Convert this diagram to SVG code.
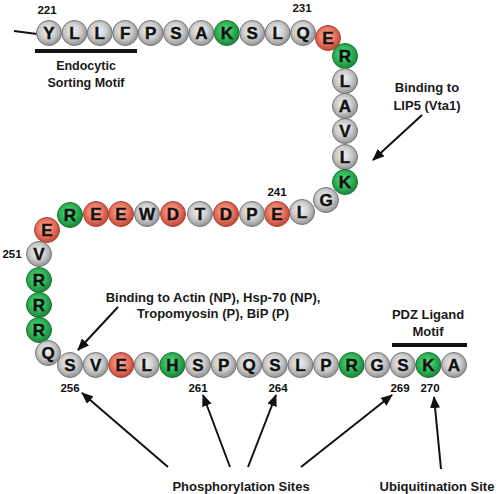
<svg xmlns="http://www.w3.org/2000/svg" width="498" height="494" viewBox="0 0 498 494">
<defs>
<radialGradient id="gG" cx="45%" cy="42%" r="58%">
<stop offset="0" stop-color="#f2f2f2"/><stop offset="0.55" stop-color="#cdcdcd"/><stop offset="1" stop-color="#929292"/>
</radialGradient>
<radialGradient id="gN" cx="45%" cy="42%" r="58%">
<stop offset="0" stop-color="#5cdc80"/><stop offset="0.55" stop-color="#2fb657"/><stop offset="1" stop-color="#1a8439"/>
</radialGradient>
<radialGradient id="gR" cx="45%" cy="42%" r="58%">
<stop offset="0" stop-color="#fbb6a6"/><stop offset="0.55" stop-color="#ea7662"/><stop offset="1" stop-color="#c14537"/>
</radialGradient>
<marker id="ah" viewBox="0 0 12 10" refX="11" refY="5" markerWidth="12" markerHeight="10" markerUnits="userSpaceOnUse" orient="auto">
<path d="M0,0 L12,5 L0,10 z" fill="#111"/>
</marker>
<style>
circle{stroke-width:1}
.g{fill:url(#gG);stroke:#767676}
.n{fill:url(#gN);stroke:#1d7436}
.r{fill:url(#gR);stroke:#a44236}
.aa{font-family:"Liberation Sans",Arial,sans-serif;font-weight:bold;font-size:17px;text-anchor:middle;fill:#111;stroke:#111;stroke-width:0.4}
.num{font-family:"Liberation Sans",Arial,sans-serif;font-weight:bold;font-size:11.5px;text-anchor:middle;fill:#111}
.lbl{font-family:"Liberation Sans",Arial,sans-serif;font-weight:bold;font-size:13px;text-anchor:middle;fill:#1a1a1a}
.ar{stroke:#111;stroke-width:2;fill:none;marker-end:url(#ah)}
.bar{stroke:#111;stroke-width:4}
</style>
</defs>
<rect width="498" height="494" fill="#fff"/>
<g id="connectors">
<line x1="14" y1="31" x2="37" y2="34" stroke="#111" stroke-width="2"/>
<line class="ar" x1="422" y1="115" x2="373" y2="160"/>
<line class="ar" x1="118" y1="307" x2="78" y2="350"/>
<line class="ar" x1="168" y1="467" x2="82" y2="393"/>
<line class="ar" x1="230" y1="467" x2="203" y2="395"/>
<line class="ar" x1="248" y1="467" x2="276" y2="395"/>
<line class="ar" x1="301" y1="467" x2="392" y2="395"/>
<line class="ar" x1="441" y1="469" x2="434" y2="397"/>
</g>
<g id="beads">
<g id="r221"><circle class="g" cx="49" cy="33" r="12.5"/><text class="aa" x="49" y="39">Y</text></g>
<g id="r222"><circle class="g" cx="74.4" cy="33" r="12.5"/><text class="aa" x="74.4" y="39">L</text></g>
<g id="r223"><circle class="g" cx="99.8" cy="33" r="12.5"/><text class="aa" x="99.8" y="39">L</text></g>
<g id="r224"><circle class="g" cx="125.2" cy="33" r="12.5"/><text class="aa" x="125.2" y="39">F</text></g>
<g id="r225"><circle class="g" cx="150.6" cy="33" r="12.5"/><text class="aa" x="150.6" y="39">P</text></g>
<g id="r226"><circle class="g" cx="176" cy="33" r="12.5"/><text class="aa" x="176" y="39">S</text></g>
<g id="r227"><circle class="g" cx="201.4" cy="33" r="12.5"/><text class="aa" x="201.4" y="39">A</text></g>
<g id="r228"><circle class="n" cx="226.8" cy="33" r="12.5"/><text class="aa" x="226.8" y="39">K</text></g>
<g id="r229"><circle class="g" cx="252.2" cy="33" r="12.5"/><text class="aa" x="252.2" y="39">S</text></g>
<g id="r230"><circle class="g" cx="277.6" cy="33" r="12.5"/><text class="aa" x="277.6" y="39">L</text></g>
<g id="r231"><circle class="g" cx="303" cy="33" r="12.5"/><text class="aa" x="303" y="39">Q</text></g>
<g id="r232"><circle class="r" cx="328" cy="38" r="12.5"/><text class="aa" x="328" y="44">E</text></g>
<g id="r233"><circle class="n" cx="345" cy="56" r="12.5"/><text class="aa" x="345" y="62">R</text></g>
<g id="r234"><circle class="g" cx="345" cy="81" r="12.5"/><text class="aa" x="345" y="87">L</text></g>
<g id="r235"><circle class="g" cx="345" cy="106" r="12.5"/><text class="aa" x="345" y="112">A</text></g>
<g id="r236"><circle class="g" cx="345" cy="131" r="12.5"/><text class="aa" x="345" y="137">V</text></g>
<g id="r237"><circle class="g" cx="345" cy="157" r="12.5"/><text class="aa" x="345" y="163">L</text></g>
<g id="r238"><circle class="n" cx="345" cy="182" r="12.5"/><text class="aa" x="345" y="188">K</text></g>
<g id="r239"><circle class="g" cx="326" cy="200" r="12.5"/><text class="aa" x="326" y="206">G</text></g>
<g id="r240"><circle class="g" cx="302" cy="212" r="12.5"/><text class="aa" x="302" y="218">L</text></g>
<g id="r241"><circle class="r" cx="277" cy="214" r="12.5"/><text class="aa" x="277" y="220">E</text></g>
<g id="r242"><circle class="g" cx="252" cy="214" r="12.5"/><text class="aa" x="252" y="220">P</text></g>
<g id="r243"><circle class="r" cx="226" cy="214" r="12.5"/><text class="aa" x="226" y="220">D</text></g>
<g id="r244"><circle class="g" cx="200" cy="214" r="12.5"/><text class="aa" x="200" y="220">T</text></g>
<g id="r245"><circle class="r" cx="173" cy="214" r="12.5"/><text class="aa" x="173" y="220">D</text></g>
<g id="r246"><circle class="g" cx="147" cy="214" r="12.5"/><text class="aa" x="147" y="220">W</text></g>
<g id="r247"><circle class="r" cx="121" cy="214" r="12.5"/><text class="aa" x="121" y="220">E</text></g>
<g id="r248"><circle class="r" cx="96" cy="214" r="12.5"/><text class="aa" x="96" y="220">E</text></g>
<g id="r249"><circle class="n" cx="70" cy="215" r="12.5"/><text class="aa" x="70" y="221">R</text></g>
<g id="r250"><circle class="r" cx="47" cy="230" r="12.5"/><text class="aa" x="47" y="236">E</text></g>
<g id="r251"><circle class="g" cx="39" cy="254" r="12.5"/><text class="aa" x="39" y="260">V</text></g>
<g id="r252"><circle class="n" cx="39" cy="280" r="12.5"/><text class="aa" x="39" y="286">R</text></g>
<g id="r253"><circle class="n" cx="39" cy="305" r="12.5"/><text class="aa" x="39" y="311">R</text></g>
<g id="r254"><circle class="n" cx="39" cy="330" r="12.5"/><text class="aa" x="39" y="336">R</text></g>
<g id="r255"><circle class="g" cx="48" cy="353" r="12.5"/><text class="aa" x="48" y="359">Q</text></g>
<g id="r256"><circle class="g" cx="70" cy="365" r="12.5"/><text class="aa" x="70" y="371">S</text></g>
<g id="r257"><circle class="g" cx="95.6" cy="365" r="12.5"/><text class="aa" x="95.6" y="371">V</text></g>
<g id="r258"><circle class="r" cx="121.2" cy="365" r="12.5"/><text class="aa" x="121.2" y="371">E</text></g>
<g id="r259"><circle class="g" cx="146.8" cy="365" r="12.5"/><text class="aa" x="146.8" y="371">L</text></g>
<g id="r260"><circle class="n" cx="172.4" cy="365" r="12.5"/><text class="aa" x="172.4" y="371">H</text></g>
<g id="r261"><circle class="g" cx="198" cy="365" r="12.5"/><text class="aa" x="198" y="371">S</text></g>
<g id="r262"><circle class="g" cx="223.6" cy="365" r="12.5"/><text class="aa" x="223.6" y="371">P</text></g>
<g id="r263"><circle class="g" cx="249.2" cy="365" r="12.5"/><text class="aa" x="249.2" y="371">Q</text></g>
<g id="r264"><circle class="g" cx="274.8" cy="365" r="12.5"/><text class="aa" x="274.8" y="371">S</text></g>
<g id="r265"><circle class="g" cx="300.4" cy="365" r="12.5"/><text class="aa" x="300.4" y="371">L</text></g>
<g id="r266"><circle class="g" cx="326" cy="365" r="12.5"/><text class="aa" x="326" y="371">P</text></g>
<g id="r267"><circle class="n" cx="351.6" cy="365" r="12.5"/><text class="aa" x="351.6" y="371">R</text></g>
<g id="r268"><circle class="g" cx="377.2" cy="365" r="12.5"/><text class="aa" x="377.2" y="371">G</text></g>
<g id="r269"><circle class="g" cx="402.8" cy="365" r="12.5"/><text class="aa" x="402.8" y="371">S</text></g>
<g id="r270"><circle class="n" cx="428.4" cy="365" r="12.5"/><text class="aa" x="428.4" y="371">K</text></g>
<g id="r271"><circle class="g" cx="454" cy="365" r="12.5"/><text class="aa" x="454" y="371">A</text></g>
</g>
<g id="numbers">
<text class="num" x="47" y="14">221</text>
<text class="num" x="302" y="12">231</text>
<text class="num" x="277" y="196">241</text>
<text class="num" x="12" y="258">251</text>
<text class="num" x="70" y="392">256</text>
<text class="num" x="198" y="392">261</text>
<text class="num" x="278" y="392">264</text>
<text class="num" x="400" y="392">269</text>
<text class="num" x="430" y="392">270</text>
</g>
<g id="endocytic">
<line class="bar" x1="35" y1="51" x2="137" y2="51"/>
<text class="lbl" x="86" y="70" style="font-size:12.5px">Endocytic</text>
<text class="lbl" x="86" y="87" style="font-size:12.5px">Sorting Motif</text>
</g>
<g id="lip5">
<text class="lbl" x="427" y="92">Binding to</text>
<text class="lbl" x="427" y="110">LIP5 (Vta1)</text>
</g>
<g id="actin">
<text class="lbl" x="213" y="302">Binding to Actin (NP), Hsp-70 (NP),</text>
<text class="lbl" x="213" y="318">Tropomyosin (P), BiP (P)</text>
</g>
<g id="pdz">
<text class="lbl" x="428" y="319">PDZ Ligand</text>
<text class="lbl" x="428" y="336">Motif</text>
<line class="bar" x1="392" y1="345" x2="467" y2="345"/>
</g>
<g id="phos"><text class="lbl" x="241" y="491">Phosphorylation Sites</text></g>
<g id="ubiq"><text class="lbl" x="437" y="491">Ubiquitination Site</text></g>
</svg>
